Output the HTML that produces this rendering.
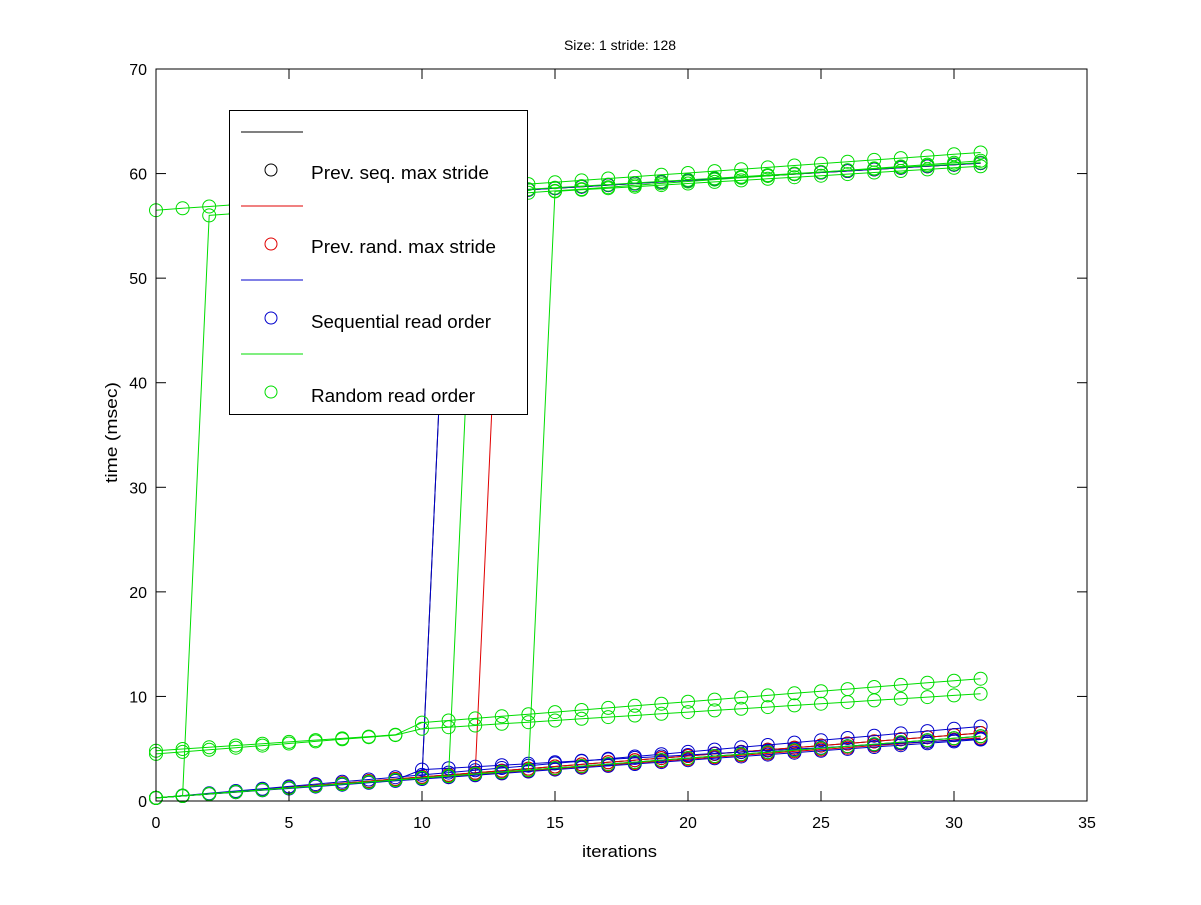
<!DOCTYPE html>
<html><head><meta charset="utf-8"><style>
body{margin:0;background:#fff;}
svg text{font-family:"Liberation Sans",sans-serif;}
</style></head><body>
<svg id="s" width="1201" height="900" xmlns="http://www.w3.org/2000/svg">
<rect width="1201" height="900" fill="#fff"/>
<g id="plot"></g>
<rect x="156" y="69" width="931" height="732" fill="none" stroke="#000" stroke-width="1"/>
<g id="ax" font-size="16" fill="#000"></g>
<text x="620" y="50" font-size="14" text-anchor="middle">Size: 1 stride: 128</text>
<text x="582" y="857" font-size="17" textLength="75" lengthAdjust="spacingAndGlyphs">iterations</text>
<text x="0" y="0" font-size="17" textLength="101" lengthAdjust="spacingAndGlyphs" transform="translate(117,483) rotate(-90)">time (msec)</text>
<g>
<rect x="229.5" y="110.5" width="298" height="304" fill="#fff" stroke="#000"/>
<line x1="241" y1="132" x2="303" y2="132" stroke="#000"/>
<circle cx="271" cy="170" r="6" fill="none" stroke="#000"/>
<text x="311" y="179" font-size="18" textLength="178" lengthAdjust="spacingAndGlyphs">Prev. seq. max stride</text>
<line x1="241" y1="206" x2="303" y2="206" stroke="#e00000"/>
<circle cx="271" cy="244" r="6" fill="none" stroke="#e00000"/>
<text x="311" y="253" font-size="18" textLength="185" lengthAdjust="spacingAndGlyphs">Prev. rand. max stride</text>
<line x1="241" y1="280" x2="303" y2="280" stroke="#0000cc"/>
<circle cx="271" cy="318" r="6" fill="none" stroke="#0000cc"/>
<text x="311" y="328" font-size="18" textLength="180" lengthAdjust="spacingAndGlyphs">Sequential read order</text>
<line x1="241" y1="354" x2="303" y2="354" stroke="#00dd00"/>
<circle cx="271" cy="392" r="6" fill="none" stroke="#00dd00"/>
<text x="311" y="402" font-size="18" textLength="164" lengthAdjust="spacingAndGlyphs">Random read order</text>
</g>
</svg>
<script>
var X=function(v){return 156+v*26.6},Y=function(v){return 801-v*10.457};
var ax=document.getElementById('ax'),h='';
for(var i=0;i<=35;i+=5){var x=X(i);h+='<line x1="'+x+'" y1="801" x2="'+x+'" y2="791" stroke="#000"/><line x1="'+x+'" y1="69" x2="'+x+'" y2="79" stroke="#000"/><text x="'+x+'" y="828" text-anchor="middle">'+i+'</text>';}
for(var j=0;j<=70;j+=10){var y=Y(j);h+='<line x1="156" y1="'+y+'" x2="166" y2="'+y+'" stroke="#000"/><line x1="1087" y1="'+y+'" x2="1077" y2="'+y+'" stroke="#000"/><text x="147" y="'+(y+6)+'" text-anchor="end">'+j+'</text>';}
ax.innerHTML=h;
function low(a,b){var r=[];for(var i=0;i<32;i++)r.push(a+b*i);return r;}
function jump(k,a,b,ha){var r=[];for(var i=0;i<32;i++)r.push(i<k?0.3+0.19*i:ha+0.15*(i-k));return r;}
var K='#000',R='#e00000',B='#0000cc',G='#00dd00';
var S=[
[K,low(0.3,0.19)],[K,low(0.3,0.2)],[K,jump(11,0,0,58)],
[R,low(0.3,0.185)],[R,jump(13,0,0,58.3)],[R,low(0.3,0.2)],
[B,low(0.3,0.18)],[B,low(0.3,0.22)],[B,jump(11,0,0,58)],[B,(function(){var r=low(0.3,0.19);for(var i=10;i<32;i++)r[i]=3+0.14*(i-10);return r})()],
[G,low(0.3,0.19)],[G,jump(12,0,0,58.2)],[G,jump(15,0,0,58.3)],
[G,(function(){var r=[];for(var i=0;i<32;i++)r.push(i<2?0.3+0.2*i:56+0.18*(i-2));return r})()],
[G,low(56.5,0.178)],
[G,(function(){var r=[];for(var i=0;i<32;i++)r.push(i<10?4.8+0.17*i:7.5+0.2*(i-10));return r})()],
[G,(function(){var r=[];for(var i=0;i<32;i++)r.push(i<10?4.5+0.2*i:6.9+0.16*(i-10));return r})()]
];
var p='';
S.forEach(function(s){var pts=s[1].map(function(v,i){return X(i).toFixed(1)+','+Y(v).toFixed(1)}).join(' ');
p+='<polyline points="'+pts+'" fill="none" stroke="'+s[0]+'" stroke-width="1"/>';
s[1].forEach(function(v,i){p+='<circle cx="'+X(i).toFixed(1)+'" cy="'+Y(v).toFixed(1)+'" r="6.5" fill="none" stroke="'+s[0]+'"/>';});});
document.getElementById('plot').innerHTML=p;
</script>
</body></html>
